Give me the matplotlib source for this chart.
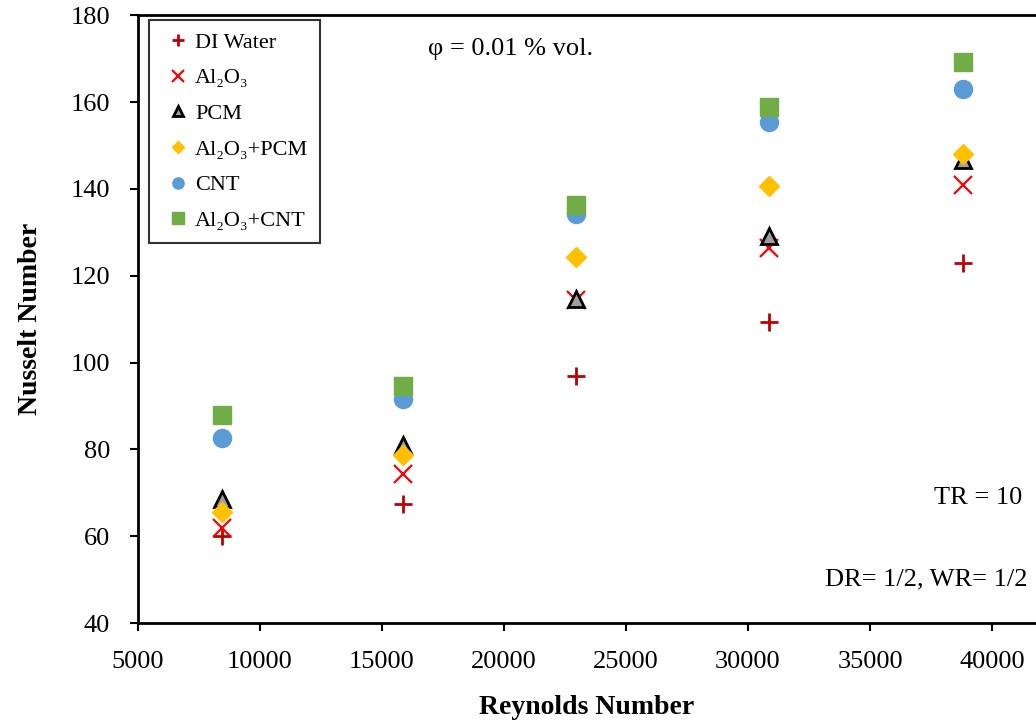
import matplotlib
matplotlib.use("Agg")
import matplotlib.pyplot as plt
import numpy as np

plt.rcParams['font.family'] = ['Liberation Serif', 'DejaVu Serif']

reynolds = [8450, 15850, 22950, 30850, 38800]
di_water = [60.0, 67.5, 96.8, 109.3, 122.9]
al2o3 = [61.9, 74.4, 114.4, 126.4, 141.0]
pcm = [68.6, 80.9, 114.6, 129.1, 146.6]
al2o3_pcm = [65.6, 78.8, 124.3, 140.7, 148.0]
cnt = [82.7, 91.7, 134.2, 155.5, 162.9]
al2o3_cnt = [88.0, 94.5, 136.3, 158.9, 169.1]

fig = plt.figure(figsize=(10.36, 7.22), dpi=100)
ax = fig.add_axes([0.133, 0.137, 0.867, 0.842])

ax.plot(reynolds, di_water, linestyle='none', marker='+', color='#C00000',
        markersize=13, markeredgewidth=2, label='DI Water')
ax.plot(reynolds, al2o3, linestyle='none', marker='x', color='#FF0000',
        markersize=13, markeredgewidth=1.6, label='Al\u2082O\u2083')
ax.plot(reynolds, pcm, linestyle='none', marker='^', markerfacecolor='#A0A0A0',
        markeredgecolor='black', markersize=11, markeredgewidth=2, label='PCM')
ax.plot(reynolds, al2o3_pcm, linestyle='none', marker='D', color='#FFC000',
        markersize=10, label='Al\u2082O\u2083+PCM')
ax.plot(reynolds, cnt, linestyle='none', marker='o', color='#5B9BD5',
        markersize=13, label='CNT')
ax.plot(reynolds, al2o3_cnt, linestyle='none', marker='s', color='#70AD47',
        markersize=13, label='Al\u2082O\u2083+CNT')

ax.set_xlim(5000, 41800)
ax.set_ylim(40, 180)
ax.set_xticks(np.arange(5000, 40001, 5000))
ax.set_yticks(np.arange(40, 181, 20))
ax.tick_params(direction='out', length=6, width=1.5, labelsize=19)
ax.tick_params(axis='x', pad=14)
ax.tick_params(axis='y', pad=14)
ax.spines['right'].set_visible(False)
for s in ['left', 'bottom', 'top']:
    ax.spines[s].set_linewidth(2)

ax.set_xlabel('Reynolds Number', fontsize=20, fontweight='bold', labelpad=16)
ax.set_ylabel('Nusselt Number', fontsize=20, fontweight='bold', labelpad=20)

ax.text(0.415, 0.945, '\u03c6 = 0.01 % vol.', transform=ax.transAxes,
        fontsize=19, ha='center', va='center')
ax.text(0.985, 0.205, 'TR = 10', transform=ax.transAxes,
        fontsize=19, ha='right', va='center')
ax.text(0.99, 0.072, 'DR= 1/2, WR= 1/2', transform=ax.transAxes,
        fontsize=19, ha='right', va='center')

leg = ax.legend(loc='upper left', bbox_to_anchor=(0.013, 0.992), fontsize=16,
                frameon=True, fancybox=False, edgecolor='black',
                handlelength=1.5, handletextpad=0.0, labelspacing=0.68,
                markerscale=0.62, borderpad=0.55, borderaxespad=0)
leg.get_frame().set_linewidth(1.5)

fig.savefig('out.png', dpi=100)
